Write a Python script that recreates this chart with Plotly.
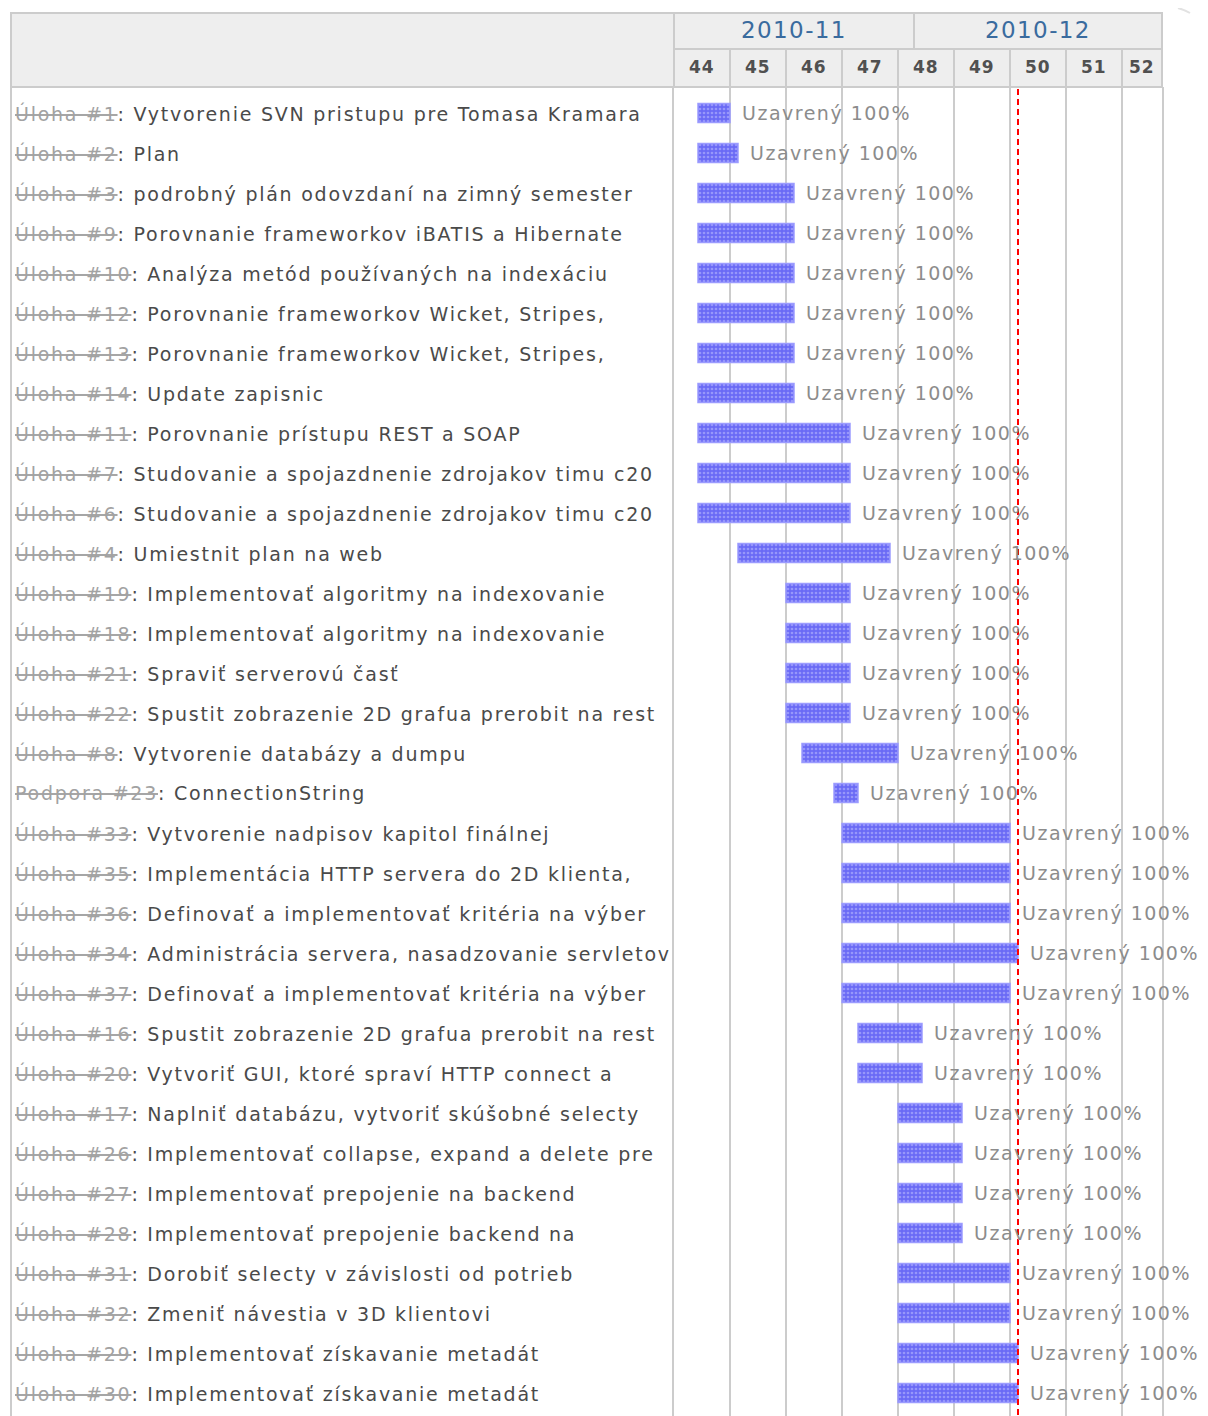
import plotly.graph_objects as go
import pandas as pd

# page body has an 8px default margin; compensate so the picture lines up
OFF = 8
W, H = 1208, 1408

# ---------------- data ----------------
trackers = ["Úloha"] * 17 + ["Podpora"] + ["Úloha"] * 15
issue_ids = [1, 2, 3, 9, 10, 12, 13, 14, 11, 7, 6, 4, 19, 18, 21, 22, 8, 23,
             33, 35, 36, 34, 37, 16, 20, 17, 26, 27, 28, 31, 32, 29, 30]
subjects = [
    "Vytvorenie SVN pristupu pre Tomasa Kramara",
    "Plan",
    "podrobný plán odovzdaní na zimný semester",
    "Porovnanie frameworkov iBATIS a Hibernate",
    "Analýza metód používaných na indexáciu",
    "Porovnanie frameworkov Wicket, Stripes,",
    "Porovnanie frameworkov Wicket, Stripes,",
    "Update zapisnic",
    "Porovnanie prístupu REST a SOAP",
    "Studovanie a spojazdnenie zdrojakov timu c20",
    "Studovanie a spojazdnenie zdrojakov timu c20",
    "Umiestnit plan na web",
    "Implementovať algoritmy na indexovanie",
    "Implementovať algoritmy na indexovanie",
    "Spraviť serverovú časť",
    "Spustit zobrazenie 2D grafua prerobit na rest",
    "Vytvorenie databázy a dumpu",
    "ConnectionString",
    "Vytvorenie nadpisov kapitol finálnej",
    "Implementácia HTTP servera do 2D klienta,",
    "Definovať a implementovať kritéria na výber",
    "Administrácia servera, nasadzovanie servletov",
    "Definovať a implementovať kritéria na výber",
    "Spustit zobrazenie 2D grafua prerobit na rest",
    "Vytvoriť GUI, ktoré spraví HTTP connect a",
    "Naplniť databázu, vytvoriť skúšobné selecty",
    "Implementovať collapse, expand a delete pre",
    "Implementovať prepojenie na backend",
    "Implementovať prepojenie backend na",
    "Dorobiť selecty v závislosti od potrieb",
    "Zmeniť návestia v 3D klientovi",
    "Implementovať získavanie metadát",
    "Implementovať získavanie metadát",
]
start_dates = [
    "2010-11-04", "2010-11-04", "2010-11-04", "2010-11-04", "2010-11-04",
    "2010-11-04", "2010-11-04", "2010-11-04", "2010-11-04", "2010-11-04",
    "2010-11-04", "2010-11-09", "2010-11-15", "2010-11-15", "2010-11-15",
    "2010-11-15", "2010-11-17", "2010-11-21", "2010-11-22", "2010-11-22",
    "2010-11-22", "2010-11-22", "2010-11-22", "2010-11-24", "2010-11-24",
    "2010-11-29", "2010-11-29", "2010-11-29", "2010-11-29", "2010-11-29",
    "2010-11-29", "2010-11-29", "2010-11-29",
]
due_dates = [
    "2010-11-07", "2010-11-08", "2010-11-15", "2010-11-15", "2010-11-15",
    "2010-11-15", "2010-11-15", "2010-11-15", "2010-11-22", "2010-11-22",
    "2010-11-22", "2010-11-27", "2010-11-22", "2010-11-22", "2010-11-22",
    "2010-11-22", "2010-11-28", "2010-11-23", "2010-12-12", "2010-12-12",
    "2010-12-12", "2010-12-13", "2010-12-12", "2010-12-01", "2010-12-01",
    "2010-12-06", "2010-12-06", "2010-12-06", "2010-12-06", "2010-12-12",
    "2010-12-12", "2010-12-13", "2010-12-13",
]
statuses = ["Uzavrený"] * 33
done_pct = [100] * 33

months = ["2010-11", "2010-12"]
weeks = [44, 45, 46, 47, 48, 49, 50, 51, 52]
date_from = "2010-11-01"
date_to = "2011-01-01"   # exclusive end of visible range
today = "2010-12-14"

# ---------------- helpers ----------------
def px(x):
    return (x - OFF) / W

def py(y):
    return 1 - (y - OFF) / H

FONT = "DejaVu Sans"
GRID = "#cccccc"
HDR_BG = "#eeeeee"

n = len(subjects)
rows = list(range(n))
starts = pd.to_datetime(start_dates)
ends = pd.to_datetime(due_dates) + pd.Timedelta(days=1)
dur_ms = [(e - s).total_seconds() * 1000 for s, e in zip(starts, ends)]

BODY_TOP = 87
HDR_TOP = 13
HDR_MID = 49
LEFT = 11

fig = go.Figure()

fig.add_trace(go.Bar(
    y=rows,
    x=dur_ms,
    base=[s.strftime("%Y-%m-%d") for s in starts],
    orientation="h",
    width=0.47,
    marker=dict(
        color="#6a6af5",
        line=dict(color="#9c9cff", width=1.5),
        pattern=dict(shape=".", fgcolor="#c4c4ff", bgcolor="#6a6af5",
                     size=4, solidity=0.35),
    ),
    hoverinfo="skip",
    showlegend=False,
))

x_dom = [px(674), px(1162)]
fig.update_layout(
    width=W, height=H,
    margin=dict(l=0, r=0, t=0, b=0),
    paper_bgcolor="white",
    plot_bgcolor="white",
    showlegend=False,
    xaxis=dict(
        type="date",
        range=[date_from, date_to],
        domain=x_dom,
        tick0=date_from,
        dtick=7 * 86400000,
        showgrid=True,
        gridcolor=GRID,
        gridwidth=2,
        showticklabels=False,
        ticks="",
        zeroline=False,
        showline=False,
    ),
    yaxis=dict(
        range=[32.575, -0.65],
        domain=[0, py(BODY_TOP)],
        showgrid=False,
        showticklabels=False,
        ticks="",
        zeroline=False,
        showline=True,
        mirror=True,
        linecolor=GRID,
        linewidth=2,
    ),
    font=dict(family=FONT),
)

shapes = []
# header backgrounds
shapes.append(dict(type="rect", xref="paper", yref="paper",
                   x0=px(LEFT), x1=px(674), y0=py(HDR_TOP), y1=py(BODY_TOP),
                   fillcolor=HDR_BG, line=dict(color=GRID, width=2), layer="below"))
shapes.append(dict(type="rect", xref="paper", yref="paper",
                   x0=px(674), x1=px(1162), y0=py(HDR_TOP), y1=py(HDR_MID),
                   fillcolor=HDR_BG, line=dict(color=GRID, width=2), layer="below"))
shapes.append(dict(type="rect", xref="paper", yref="paper",
                   x0=px(674), x1=px(1162), y0=py(HDR_MID), y1=py(BODY_TOP),
                   fillcolor=HDR_BG, line=dict(color=GRID, width=2), layer="below"))
# month divider
month_starts = pd.to_datetime([m + "-01" for m in months])
for ms in month_starts[1:]:
    shapes.append(dict(type="line", xref="x", yref="paper",
                       x0=ms.strftime("%Y-%m-%d"), x1=ms.strftime("%Y-%m-%d"),
                       y0=py(HDR_TOP), y1=py(HDR_MID),
                       line=dict(color=GRID, width=2)))
# week dividers in header
week_starts = [pd.Timestamp(date_from) + pd.Timedelta(days=7 * i) for i in range(len(weeks))]
for ws in week_starts[1:]:
    shapes.append(dict(type="line", xref="x", yref="paper",
                       x0=ws.strftime("%Y-%m-%d"), x1=ws.strftime("%Y-%m-%d"),
                       y0=py(HDR_MID), y1=py(BODY_TOP),
                       line=dict(color=GRID, width=2)))
# left body border
shapes.append(dict(type="line", xref="paper", yref="paper",
                   x0=px(LEFT), x1=px(LEFT), y0=py(BODY_TOP), y1=0,
                   line=dict(color=GRID, width=2)))
# today line
shapes.append(dict(type="line", xref="x", yref="paper",
                   x0=today, x1=today, y0=py(BODY_TOP + 2), y1=0,
                   line=dict(color="#ff0000", width=2, dash="6px,4px")))
# faint artifact at top-right corner
shapes.append(dict(type="path", xref="paper", yref="paper",
                   path=f"M {px(1178)} {py(8)} Q {px(1185)} {py(10)} {px(1190)} {py(13)}",
                   line=dict(color="#e2e2e2", width=2)))
fig.update_layout(shapes=shapes)

def spaced(text, ls):
    return f"<span style='letter-spacing:{ls}px'>{text}</span>"

ann = []
# month labels
t_end = pd.Timestamp(date_to)
for i, m in enumerate(months):
    a = month_starts[i]
    b = month_starts[i + 1] if i + 1 < len(month_starts) else t_end
    mid = a + (min(b, t_end) - a) / 2
    ann.append(dict(x=mid, y=py(30), xref="x", yref="paper", text=spaced(m, 1.4),
                    showarrow=False, xanchor="center", yanchor="middle",
                    font=dict(family=FONT, size=23, color="#3a6b9e")))
# week labels
for w, ws in zip(weeks, week_starts):
    we = min(ws + pd.Timedelta(days=7), t_end)
    mid = ws + (we - ws) / 2
    ann.append(dict(x=mid, y=py(67), xref="x", yref="paper",
                    text=f"<b>{spaced(w, 1)}</b>",
                    showarrow=False, xanchor="center", yanchor="middle",
                    font=dict(family=FONT, size=17, color="#505050")))
# task labels (left)
for r, tr, iid, subj in zip(rows, trackers, issue_ids, subjects):
    txt = (f"<span style='color:#a2a2a2;letter-spacing:1.75px'><s>{tr} #{iid}</s></span>"
           f"<span style='color:#4a4a4a;letter-spacing:1.75px'>: {subj}</span>")
    ann.append(dict(x=px(13), y=r, xref="paper", yref="y", text=txt,
                    showarrow=False, xanchor="left", yanchor="middle",
                    font=dict(family=FONT, size=19, color="#4a4a4a")))
# status labels (right of bars)
for r, e, st, p in zip(rows, ends, statuses, done_pct):
    ann.append(dict(x=e, y=r, xref="x", yref="y", text=spaced(f"{st} {p}%", 1.5),
                    showarrow=False, xanchor="left", yanchor="middle", xshift=10,
                    font=dict(family=FONT, size=19, color="#8c8c8c")))
fig.update_layout(annotations=ann)

fig.write_html("out.html")
